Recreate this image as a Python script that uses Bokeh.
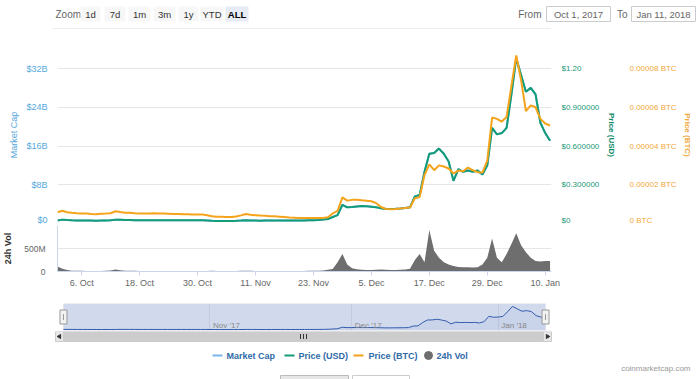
import numpy as np
import pandas as pd
from bokeh.plotting import figure
from bokeh.layouts import column
from bokeh.models import (Range1d, LinearAxis, FixedTicker, Grid,
                          ColumnDataSource, BoxAnnotation)
from bokeh.core.properties import value
from bokeh.embed import file_html
from bokeh.resources import INLINE

# ---------------- data ----------------
DATES = pd.date_range("2017-10-01", "2018-01-11", freq="D")

PRICE_USD = [
    0.024, 0.030, 0.027, 0.025, 0.024, 0.024, 0.024, 0.023, 0.022, 0.023,
    0.024, 0.025, 0.030, 0.029, 0.027, 0.027, 0.026, 0.025, 0.026, 0.026,
    0.025, 0.025, 0.026, 0.025, 0.025, 0.026, 0.026, 0.025, 0.025, 0.025,
    0.025,
    0.024, 0.021, 0.020, 0.020, 0.020, 0.020, 0.021, 0.023, 0.026, 0.024,
    0.024, 0.022, 0.023, 0.023, 0.024, 0.024, 0.024, 0.023, 0.023, 0.024,
    0.024, 0.025, 0.026, 0.027, 0.030, 0.035, 0.050, 0.065, 0.145, 0.125,
    0.128, 0.132, 0.135, 0.133, 0.130, 0.125, 0.118, 0.112, 0.113, 0.114,
    0.116, 0.120, 0.125, 0.210, 0.220, 0.400, 0.540, 0.545, 0.580, 0.540,
    0.480, 0.330, 0.420, 0.400, 0.410, 0.400, 0.410, 0.380, 0.450, 0.740,
    0.690,
    0.700, 0.740, 1.000, 1.280, 1.150, 1.020, 1.050, 1.000, 0.780, 0.700, 0.640,
]

PRICE_BTC_MICRO = [
    5.8, 6.6, 5.8, 5.5, 5.3, 5.2, 5.1, 4.9, 4.8, 5.0,
    5.1, 5.3, 6.3, 5.9, 5.6, 5.5, 5.3, 5.2, 5.1, 5.1,
    5.3, 5.2, 5.1, 5.0, 4.9, 4.9, 4.8, 4.8, 4.7, 4.7,
    4.6,
    4.3, 3.7, 3.5, 3.5, 3.4, 3.4, 3.6, 4.2, 4.9, 4.5,
    4.3, 4.1, 4.0, 3.8, 3.7, 3.5, 3.3, 3.1, 3.0, 2.9,
    2.8, 2.8, 2.8, 2.8, 2.9, 3.2, 5.2, 6.5, 13.5, 11.8,
    12.2, 12.3, 12.0, 11.8, 11.5, 10.5, 8.5, 7.5, 7.3, 7.5,
    7.8, 8.0, 8.3, 13.0, 13.6, 25.0, 30.5, 27.5, 30.0, 29.4,
    28.4, 25.8, 27.3, 27.0, 28.9, 27.5, 26.5, 26.3, 32.5, 54.7,
    54.0,
    52.6, 55.0, 71.0, 86.7, 74.0, 58.0, 61.0, 60.0, 54.0, 51.6, 50.6,
]

MARKET_CAP_B = [
    0.64, 0.80, 0.72, 0.67, 0.64, 0.64, 0.64, 0.61, 0.59, 0.61,
    0.64, 0.67, 0.80, 0.77, 0.72, 0.72, 0.69, 0.67, 0.69, 0.69,
    0.67, 0.67, 0.69, 0.67, 0.67, 0.69, 0.69, 0.67, 0.67, 0.67,
    0.67,
    0.64, 0.56, 0.53, 0.53, 0.53, 0.53, 0.56, 0.61, 0.69, 0.64,
    0.64, 0.59, 0.61, 0.61, 0.64, 0.64, 0.64, 0.61, 0.61, 0.64,
    0.64, 0.67, 0.69, 0.72, 0.80, 0.93, 1.33, 1.73, 3.87, 3.33,
    3.41, 3.52, 3.60, 3.55, 3.47, 3.33, 3.15, 2.99, 3.01, 3.04,
    3.09, 3.20, 3.33, 5.60, 5.87, 10.67, 14.40, 14.54, 15.47, 14.40,
    12.80, 8.80, 11.20, 10.67, 10.93, 10.67, 10.93, 10.13, 12.00, 19.74,
    18.40,
    18.67, 19.74, 26.67, 34.14, 30.67, 27.20, 28.00, 26.67, 20.80, 18.67, 17.07,
]

VOLUME_M = [
    110, 60, 30, 18, 15, 14, 13, 12, 12, 13,
    14, 20, 45, 25, 18, 15, 14, 13, 12, 12,
    12, 11, 11, 12, 12, 11, 11, 10, 10, 10,
    10,
    12, 14, 12, 10, 10, 10, 11, 14, 18, 15,
    13, 12, 12, 11, 11, 12, 12, 12, 12, 12,
    13, 14, 15, 16, 20, 40, 55, 200, 380, 150,
    70, 50, 40, 35, 35, 40, 45, 40, 35, 35,
    40, 45, 60, 250, 380, 200, 900, 450, 300, 200,
    150, 120, 100, 90, 90, 85, 90, 150, 300, 720,
    300,
    200, 380, 600, 830, 570, 420, 300, 230, 220, 230, 230,
]

MCAP_TICKS = [0, 8, 16, 24, 32]
MCAP_LABELS = ["$0", "$8B", "$16B", "$24B", "$32B"]
USD_TICKS = [0, 0.3, 0.6, 0.9, 1.2]
USD_LABELS = ["$0", "$0.300000", "$0.600000", "$0.900000", "$1.20"]
BTC_TICKS = [0, 20, 40, 60, 80]
BTC_LABELS = ["0 BTC", "0.00002 BTC", "0.00004 BTC", "0.00006 BTC", "0.00008 BTC"]
VOL_TICKS = [0, 500]
VOL_LABELS = ["0", "500M"]
X_TICK_DATES = ["2017-10-06", "2017-10-18", "2017-10-30", "2017-11-11", "2017-11-23",
                "2017-12-05", "2017-12-17", "2017-12-29", "2018-01-10"]
X_TICK_LABELS = ["6. Oct", "18. Oct", "30. Oct", "11. Nov", "23. Nov",
                 "5. Dec", "17. Dec", "29. Dec", "10. Jan"]
NAV_TICK_DATES = ["2017-11-01", "2017-12-01", "2018-01-01"]
NAV_TICK_LABELS = ["Nov '17", "Dec '17", "Jan '18"]
ZOOM_BUTTONS = ["1d", "7d", "1m", "3m", "1y", "YTD", "ALL"]
LEGEND_NAMES = ["Market Cap", "Price (USD)", "Price (BTC)", "24h Vol"]

# ---------------- style ----------------
FONT = "Liberation Sans"
W = 700
LEFT, RIGHT = 55, 149          # frame spans page x 55..551
C_MCAP = "#7cb5ec"
C_MCAP_TXT = "#55a8dc"
C_USD = "#129c78"
C_USD_TXT = "#1b9a78"
C_BTC = "#f5a31a"
C_BTC_TXT = "#f2a83a"
C_VOL = "#6e6e6e"
C_GRID = "#e6e6e6"


def ms(d):
    return int(pd.Timestamp(d).value // 10**6)


src = ColumnDataSource(dict(date=DATES, usd=PRICE_USD, btc=PRICE_BTC_MICRO,
                            mcap=MARKET_CAP_B, vol=VOLUME_M))

x_main = Range1d(start=DATES[0], end=DATES[0] + pd.Timedelta(hours=102.3 * 24))


def base_fig(height, **kw):
    f = figure(width=W, height=height, toolbar_location=None, tools="",
               output_backend="svg", outline_line_color=None,
               background_fill_color="white", border_fill_color="white", **kw)
    for g in f.grid:
        g.visible = False
    return f


def pixel_fig(height, ytop, ybot):
    f = base_fig(height, x_range=Range1d(0, W), y_range=Range1d(ybot, ytop),
                 x_axis_location=None, y_axis_location=None,
                 min_border=0, min_border_left=0, min_border_right=0,
                 min_border_top=0, min_border_bottom=0)
    f.frame_align = False
    return f


def style_axis(ax, color, size="8px"):
    ax.axis_line_color = None
    ax.major_tick_line_color = None
    ax.minor_tick_line_color = None
    ax.major_tick_out = 0
    ax.major_tick_in = 0
    ax.minor_tick_out = 0
    ax.minor_tick_in = 0
    ax.major_label_text_color = color
    ax.major_label_text_font = FONT
    ax.major_label_text_font_size = size
    ax.major_label_text_baseline = "bottom"
    ax.axis_label_text_font = FONT
    ax.axis_label_text_font_style = "normal"


# ---------------- top bar (page y 0..44) ----------------
t = pixel_fig(44, 0, 44)
t.segment(x0=[52], y0=[28], x1=[550], y1=[28], line_color="#eeeeee", line_width=1)
t.text(x=[55], y=[13.5], text=["Zoom"], text_font=value(FONT), text_font_size="10px",
       text_color="#666666", text_align="left", text_baseline="middle")
BTN_L = [80, 104, 128, 153, 178, 200, 225]
BTN_R = [100, 125, 150, 175, 198, 223, 248]
btn_fill = ["#f7f7f7"] * 6 + ["#e6ebf5"]
t.quad(left=BTN_L, right=BTN_R, top=[6] * 7, bottom=[21] * 7, fill_color=btn_fill, line_color=None)
t.text(x=[(a + b) / 2 for a, b in zip(BTN_L[:-1], BTN_R[:-1])], y=[13.5] * 6, text=ZOOM_BUTTONS[:-1],
       text_font=value(FONT), text_font_size="9.5px", text_color="#333333",
       text_align="center", text_baseline="middle")
t.text(x=[(BTN_L[-1] + BTN_R[-1]) / 2], y=[13.5], text=ZOOM_BUTTONS[-1:],
       text_font=value(FONT), text_font_size="9.5px", text_color="#000000", text_font_style="bold",
       text_align="center", text_baseline="middle")
t.text(x=[541, 627], y=[13.5, 13.5], text=["From", "To"], text_font=value(FONT), text_font_size="10px",
       text_color="#666666", text_align="right", text_baseline="middle")
t.quad(left=[546, 631], right=[610, 695], top=[6, 6], bottom=[21, 21], fill_color="white",
       line_color="#cccccc", line_width=1)
t.text(x=[578, 663], y=[13.5, 13.5], text=["Oct 1, 2017", "Jan 11, 2018"], text_font=value(FONT),
       text_font_size="9.5px", text_color="#666666", text_align="center", text_baseline="middle")

# ---------------- price pane (page y 44..224, frame 46..223) ----------------
FRAME_H = 177
p = base_fig(180, x_range=x_main, y_range=Range1d(0, FRAME_H * 32 / 155),
             x_axis_type="datetime", x_axis_location=None, y_axis_location=None,
             min_border_left=LEFT, min_border_right=RIGHT, min_border_top=2, min_border_bottom=1)
p.extra_y_ranges = {"usd": Range1d(0, FRAME_H * 1.2 / 155),
                    "btc": Range1d(0, FRAME_H * 80 / 155)}
p.add_layout(Grid(dimension=1, ticker=FixedTicker(ticks=MCAP_TICKS), grid_line_color=C_GRID))

ax_m = LinearAxis(ticker=FixedTicker(ticks=MCAP_TICKS),
                  major_label_overrides=dict(zip(MCAP_TICKS, MCAP_LABELS)),
                  axis_label="Market Cap")
style_axis(ax_m, C_MCAP_TXT, "9px")
ax_m.major_label_standoff = 10
ax_m.axis_label_standoff = 4
ax_m.axis_label_text_color = C_MCAP_TXT
ax_m.axis_label_text_font_size = "9px"
p.add_layout(ax_m, "left")

ax_u = LinearAxis(y_range_name="usd", ticker=FixedTicker(ticks=USD_TICKS),
                  major_label_overrides=dict(zip(USD_TICKS, USD_LABELS)),
                  axis_label="Price (USD)")
style_axis(ax_u, C_USD_TXT, "8px")
ax_u.major_label_standoff = 10
ax_u.axis_label_standoff = 5
ax_u.axis_label_text_color = "#0e8a68"
ax_u.axis_label_text_font_style = "bold"
ax_u.axis_label_text_font_size = "8px"
p.add_layout(ax_u, "right")

ax_b = LinearAxis(y_range_name="btc", ticker=FixedTicker(ticks=BTC_TICKS),
                  major_label_overrides=dict(zip(BTC_TICKS, BTC_LABELS)),
                  axis_label="Price (BTC)")
style_axis(ax_b, C_BTC_TXT, "8px")
ax_b.major_label_standoff = 10
ax_b.axis_label_standoff = 3
ax_b.axis_label_text_color = C_BTC_TXT
ax_b.axis_label_text_font_style = "bold"
ax_b.axis_label_text_font_size = "8px"
p.add_layout(ax_b, "right")

p.line("date", "mcap", source=src, line_color=C_MCAP, line_width=2)
p.line("date", "usd", source=src, y_range_name="usd", line_color=C_USD, line_width=2)
p.line("date", "btc", source=src, y_range_name="btc", line_color=C_BTC, line_width=2)

# ---------------- volume pane (page y 224..292, frame 225..271) ----------------
v = base_fig(68, x_range=x_main, y_range=Range1d(0, 1000),
             x_axis_type="datetime", x_axis_location="below", y_axis_location=None,
             min_border_left=LEFT, min_border_right=RIGHT, min_border_top=1, min_border_bottom=21)
v.add_layout(Grid(dimension=1, ticker=FixedTicker(ticks=VOL_TICKS), grid_line_color=C_GRID))
ax_v = LinearAxis(ticker=FixedTicker(ticks=VOL_TICKS),
                  major_label_overrides=dict(zip(VOL_TICKS, VOL_LABELS)),
                  axis_label="24h Vol")
style_axis(ax_v, "#666666", "8.5px")
ax_v.axis_line_color = "#ccd6eb"
ax_v.major_label_standoff = 12
ax_v.axis_label_standoff = 8
ax_v.axis_label_text_color = "#333333"
ax_v.axis_label_text_font_style = "bold"
ax_v.axis_label_text_font_size = "9px"
v.add_layout(ax_v, "left")

X_TICK_MS = [ms(d) for d in X_TICK_DATES]
xa = v.xaxis[0]
xa.ticker = FixedTicker(ticks=X_TICK_MS)
xa.major_label_overrides = dict(zip(X_TICK_MS, X_TICK_LABELS))
xa.axis_line_color = "#ccd6eb"
xa.major_tick_line_color = "#ccd6eb"
xa.major_tick_out = 4
xa.major_tick_in = 0
xa.minor_tick_line_color = None
xa.minor_tick_out = 0
xa.major_label_standoff = 2
xa.major_label_text_color = "#666666"
xa.major_label_text_font = FONT
xa.major_label_text_font_size = "9px"

v.varea(x="date", y1=0, y2="vol", source=src, fill_color=C_VOL)

# ---------------- navigator (page y 292..331, frame 303..330) ----------------
NAV_Y0, NAV_Y1 = -0.85, 38.4
pad = pd.Timedelta(days=1.264)
n = base_fig(39, x_range=Range1d(DATES[0] - pad, DATES[-1] + pad), y_range=Range1d(NAV_Y0, NAV_Y1),
             x_axis_type="datetime", x_axis_location=None, y_axis_location=None,
             min_border_left=LEFT, min_border_right=RIGHT, min_border_top=11, min_border_bottom=1)
n.add_layout(BoxAnnotation(left=ms(DATES[0]), right=ms(DATES[-1]), fill_color="#6685c2",
                           fill_alpha=0.3, line_color="#cccccc", line_width=1, level="underlay"))
NAV_TICK_MS = [ms(d) for d in NAV_TICK_DATES]
n.add_layout(Grid(dimension=0, ticker=FixedTicker(ticks=NAV_TICK_MS), grid_line_color="#c3cbdf"))
n.varea(x="date", y1=NAV_Y0, y2="mcap", source=src, fill_color="#335cad", fill_alpha=0.05)
n.line("date", "mcap", source=src, line_color="#335cad", line_width=1)
n.text(x=NAV_TICK_MS, y=[NAV_Y0 + 5 * (NAV_Y1 - NAV_Y0) / 27] * 3, text=NAV_TICK_LABELS,
       x_offset=3, text_font=value(FONT), text_font_size="8px", text_color="#888888",
       text_align="left", text_baseline="middle")
mid = (NAV_Y0 + NAV_Y1) / 2
n.rect(x=[ms(DATES[0]), ms(DATES[-1])], y=[mid, mid], width=7, height=14,
       width_units="screen", height_units="screen", fill_color="#f2f2f2", line_color="#999999")
n.scatter(x=[ms(DATES[0]), ms(DATES[-1])], y=[mid, mid], marker="dash", angle=np.pi / 2, size=6,
          line_color="#999999")

# ---------------- scrollbar / legend / credits (page y 331..379) ----------------
s = pixel_fig(48, 331, 379)
s.quad(left=[55], right=[551], top=[331], bottom=[341], fill_color="#f2f2f2", line_color=None)
s.quad(left=[63], right=[543], top=[331], bottom=[341], fill_color="#cccccc", line_color="#cccccc")
s.quad(left=[55, 543], right=[63, 551], top=[331, 331], bottom=[341, 341],
       fill_color="#e6e6e6", line_color="#cccccc")
s.scatter(x=[59, 547], y=[336, 336], marker="triangle", angle=[np.pi / 2, -np.pi / 2], size=4,
          fill_color="#333333", line_color="#333333")
s.segment(x0=[300, 303, 306], y0=[333.5] * 3, x1=[300, 303, 306], y1=[338.5] * 3,
          line_color="#333333", line_width=1)

s.segment(x0=[212, 284, 353], y0=[355] * 3, x1=[222, 294, 363], y1=[355] * 3,
          line_color=[C_MCAP, C_USD, C_BTC], line_width=2)
s.scatter(x=[428], y=[355], size=8, fill_color=C_VOL, line_color=C_VOL)
s.text(x=[226, 298, 368, 436], y=[355] * 4, text=LEGEND_NAMES, text_font=value(FONT),
       text_font_size="9px", text_font_style="bold", text_color="#2f6aa8",
       text_align="left", text_baseline="middle")
s.text(x=[690], y=[368], text=["coinmarketcap.com"], text_font=value(FONT), text_font_size="8px",
       text_color="#999999", text_align="right", text_baseline="middle")
s.quad(left=[280, 352], right=[348, 409], top=[375, 375], bottom=[390, 390],
       fill_color=["#e6e6e6", "white"], line_color=["#bbbbbb", "#cccccc"])

layout = column(t, p, v, n, s, spacing=0)
open("out.html", "w").write(file_html(layout, INLINE))
